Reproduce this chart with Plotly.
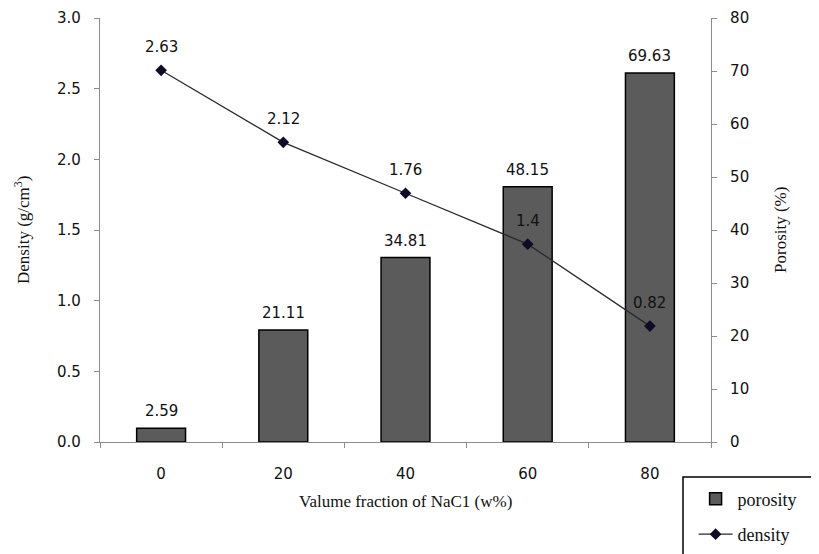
import plotly.graph_objects as go

categories = ["0", "20", "40", "60", "80"]
porosity = [2.59, 21.11, 34.81, 48.15, 69.63]
density = [2.63, 2.12, 1.76, 1.4, 0.82]
porosity_labels = ["2.59", "21.11", "34.81", "48.15", "69.63"]
density_labels = ["2.63", "2.12", "1.76", "1.4", "0.82"]

SANS = "DejaVu Sans, Verdana, sans-serif"
SERIF = "Liberation Serif, Times New Roman, serif"

fig = go.Figure()
fig.add_trace(go.Bar(
    x=categories, y=porosity, name="porosity", yaxis="y",
    marker=dict(color="#5b5b5b", line=dict(color="#000000", width=1.5)),
    legendgroup="a",
))
fig.add_trace(go.Scatter(
    x=categories, y=density, name="density", yaxis="y2", mode="lines+markers",
    line=dict(color="#2a2a2a", width=1.3),
    marker=dict(symbol="diamond", size=9, color="#0d0d26"),
    legendgroup="b",
))

annotations = []
for i, (v, t) in enumerate(zip(porosity, porosity_labels)):
    annotations.append(dict(x=i, y=v, xref="x", yref="y", text=t, showarrow=False,
                            yshift=17, font=dict(family=SANS, size=15, color="#111")))
for i, (v, t) in enumerate(zip(density, density_labels)):
    annotations.append(dict(x=i, y=v, xref="x", yref="y2", text=t, showarrow=False,
                            yshift=23, font=dict(family=SANS, size=15, color="#111")))
# axis titles
annotations.append(dict(x=0.5, y=-0.1415, xref="paper", yref="paper", text="Valume fraction of NaC1 (w%)",
                        xanchor="center", yanchor="middle",
                        showarrow=False, font=dict(family=SERIF, size=17, color="#111")))
annotations.append(dict(x=-0.1277, y=0.5, xref="paper", yref="paper", text="Density (g/cm<sup>3</sup>)",
                        xanchor="center", yanchor="middle",
                        showarrow=False, textangle=-90, font=dict(family=SERIF, size=17, color="#111")))
annotations.append(dict(x=1.1129, y=0.5, xref="paper", yref="paper", text="Porosity (%)",
                        xanchor="center", yanchor="middle",
                        showarrow=False, textangle=-90, font=dict(family=SERIF, size=17, color="#111")))

axis_common = dict(showline=True, linecolor="#8c8c8c", linewidth=1.2, ticks="outside",
                   ticklen=5, tickcolor="#8c8c8c", showgrid=False, zeroline=False)

fig.update_layout(
    width=819, height=554,
    margin=dict(l=92, r=116, t=10, b=120, autoexpand=False),
    paper_bgcolor="white", plot_bgcolor="white",
    bargap=0.6,
    showlegend=True,
    xaxis=dict(type="category", range=[-0.5, 4.5], tickson="boundaries", ticklabelstandoff=18,
               tickfont=dict(family=SANS, size=15, color="#111"), **axis_common),
    yaxis=dict(side="right", range=[0, 80], dtick=10, ticklabelstandoff=10,
               tickfont=dict(family=SANS, size=15, color="#111"), **axis_common),
    yaxis2=dict(side="left", overlaying="y", range=[0, 3], dtick=0.5, tickformat=".1f",
                ticklabelstandoff=10, tickfont=dict(family=SANS, size=15, color="#111"), **axis_common),
    legend=dict(x=0.9715, y=-0.091, xanchor="left", yanchor="top", bgcolor="rgba(0,0,0,0)",
                borderwidth=0, traceorder="grouped", tracegroupgap=9,
                font=dict(family=SERIF, size=18, color="#111"), itemwidth=34),
    annotations=annotations,
    shapes=[dict(type="rect", xref="paper", yref="paper", x0=(683 - 100) / 611, x1=1.25,
                 y0=-0.3, y1=(442 - 477) / 424, line=dict(color="#000", width=1.5))],
)

fig.write_html("out.html")
